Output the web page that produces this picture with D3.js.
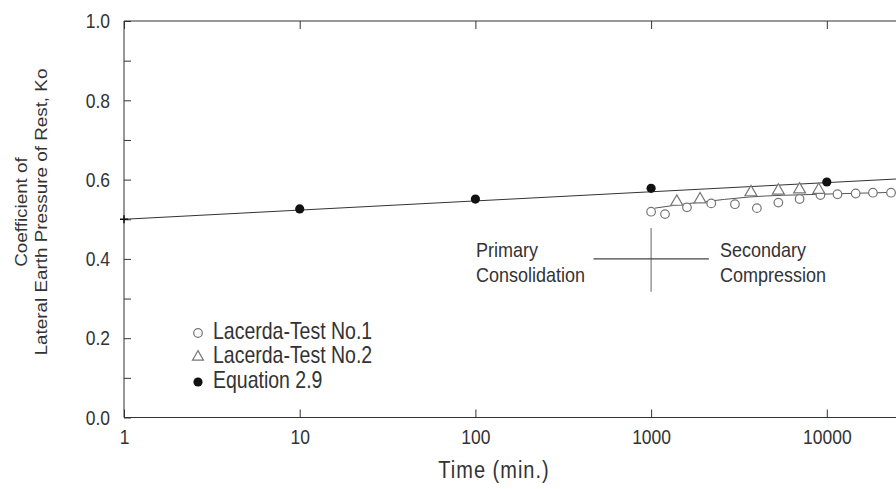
<!doctype html>
<html lang="en">
<head>
<meta charset="utf-8">
<title>Ko vs time</title>
<script src="https://cdn.jsdelivr.net/npm/d3@7"></script>
<style>
  body { margin: 0; background: #fff; }
  text { font-family: "Liberation Sans", Arial, sans-serif; fill: #333; }
</style>
</head>
<body>
<script>
// tick labels
var xTicks = [1, 10, 100, 1000, 10000];
var yTicks = [0, 0.1, 0.2, 0.3, 0.4, 0.5, 0.6, 0.7, 0.8, 0.9, 1.0];

// Lacerda - Test No.1 (open circles)
var test1Time = [1000, 1200, 1600, 2200, 3000, 4000, 5300, 7000, 9200, 11500, 14600, 18300, 23200];
var test1Ko   = [0.519, 0.513, 0.530, 0.540, 0.538, 0.528, 0.542, 0.551, 0.561, 0.563, 0.565, 0.567, 0.567];

// trend curve through the test data
var trendTime = [1050, 1400, 1900, 3600, 9000, 25000, 30000];
var trendKo   = [0.528, 0.536, 0.543, 0.556, 0.563, 0.568, 0.569];

// Lacerda - Test No.2 (open triangles)
var test2Time = [1400, 1900, 3700, 5300, 7000, 9000];
var test2Ko   = [0.544, 0.550, 0.568, 0.572, 0.575, 0.574];

// Equation 2.9 (filled dots) and its line
var eqTime = [10, 100, 1000, 10000];
var eqKo   = [0.526, 0.551, 0.578, 0.594];
var eqLineTime = [1, 100000];
var eqLineKo   = [0.5, 0.6155];

var legendNames = ["Lacerda-Test No.1", "Lacerda-Test No.2", "Equation 2.9"];

var width = 896, height = 489;
var svg = d3.select("body").append("svg")
    .attr("width", width)
    .attr("height", height);

// log x axis, decade = ~175.7 px, plot runs off the right edge
var x = d3.scaleLog().domain([1, 100000]).range([124, 1002.5]);
var y = d3.scaleLinear().domain([0, 1]).range([417.5, 21]);

var ink = "#333";

// frame
svg.append("path")
    .attr("d", "M" + x(100000) + "," + y(1) + "H" + x(1) + "V" + y(0) + "H" + x(100000))
    .attr("fill", "none")
    .attr("stroke", ink)
    .attr("stroke-width", 1);

// bottom axis with labels
var gx = svg.append("g")
    .attr("transform", "translate(0," + y(0) + ")")
    .call(d3.axisBottom(x).tickValues(xTicks).tickFormat(d3.format("d"))
        .tickSize(-8).tickPadding(9.5));
gx.select(".domain").remove();
gx.selectAll("line").attr("stroke", ink);
gx.selectAll("text")
    .attr("font-size", 17.5)
    .attr("font-family", null)
    .attr("transform", "scale(1,1.2)");

// top axis, ticks only
var gt = svg.append("g")
    .attr("transform", "translate(0," + y(1) + ")")
    .call(d3.axisTop(x).tickValues(xTicks).tickSize(-8).tickFormat(""));
gt.select(".domain").remove();
gt.selectAll("line").attr("stroke", ink);

// left axis
var gy = svg.append("g")
    .attr("transform", "translate(" + x(1) + ",0)")
    .call(d3.axisLeft(y).tickValues(yTicks)
        .tickFormat(function(d, i) { return i % 2 === 0 ? d3.format(".1f")(d) : ""; })
        .tickSize(-7).tickPadding(14));
gy.select(".domain").remove();
gy.selectAll("line").attr("stroke", ink);
gy.selectAll("text")
    .attr("font-size", 17.5)
    .attr("font-family", null)
    .attr("transform", "scale(1,1.2)");

// axis titles
svg.append("text")
    .attr("text-anchor", "middle")
    .attr("font-size", 20)
    .attr("letter-spacing", 1)
    .attr("transform", "translate(494,478) scale(1,1.15)")
    .text("Time (min.)");

svg.append("text")
    .attr("text-anchor", "middle")
    .attr("font-size", 15.7)
    .attr("transform", "translate(27,212) scale(1,1.2) rotate(-90)")
    .text("Coefficient of");

svg.append("text")
    .attr("text-anchor", "middle")
    .attr("font-size", 15.7)
    .attr("transform", "translate(47,212) scale(1,1.2) rotate(-90)")
    .text("Lateral Earth Pressure of Rest, Ko");

// equation 2.9 line
var line = d3.line()
    .x(function(d) { return x(d[0]); })
    .y(function(d) { return y(d[1]); });

svg.append("path")
    .datum(d3.zip(eqLineTime, eqLineKo))
    .attr("d", line)
    .attr("fill", "none")
    .attr("stroke", ink)
    .attr("stroke-width", 1);

// start marker on the axis
svg.append("path")
    .attr("d", "M-4,0H4M0,-4V4")
    .attr("transform", "translate(" + x(eqLineTime[0]) + "," + y(eqLineKo[0]) + ")")
    .attr("fill", "none")
    .attr("stroke", "#111")
    .attr("stroke-width", 1.5);

// test trend curve
svg.append("path")
    .datum(d3.zip(trendTime, trendKo))
    .attr("d", line.curve(d3.curveMonotoneX))
    .attr("fill", "none")
    .attr("stroke", "#555")
    .attr("stroke-width", 1);

// primary / secondary divider
svg.append("line")
    .attr("x1", x(1000)).attr("x2", x(1000))
    .attr("y1", y(0.478)).attr("y2", y(0.317))
    .attr("stroke", "#666").attr("stroke-width", 1);
svg.append("line")
    .attr("x1", x(470)).attr("x2", x(2130))
    .attr("y1", y(0.4)).attr("y2", y(0.4))
    .attr("stroke", "#444").attr("stroke-width", 1.2);

svg.append("text").attr("font-size", 18).attr("fill", "#555")
    .attr("transform", "translate(476,257) scale(1,1.15)").text("Primary");
svg.append("text").attr("font-size", 18)
    .attr("transform", "translate(476,282) scale(1,1.15)").text("Consolidation");
svg.append("text").attr("font-size", 18)
    .attr("transform", "translate(720,257) scale(1,1.15)").text("Secondary");
svg.append("text").attr("font-size", 18)
    .attr("transform", "translate(720,282) scale(1,1.15)").text("Compression");

// test 1 circles
svg.selectAll("circle.t1")
    .data(d3.zip(test1Time, test1Ko))
    .enter().append("circle")
    .attr("class", "t1")
    .attr("cx", function(d) { return x(d[0]); })
    .attr("cy", function(d) { return y(d[1]); })
    .attr("r", 4.3)
    .attr("fill", "#fff")
    .attr("stroke", "#777")
    .attr("stroke-width", 1.2);

// test 2 triangles
var tri = d3.symbol(d3.symbolTriangle).size(62);
svg.selectAll("path.t2")
    .data(d3.zip(test2Time, test2Ko))
    .enter().append("path")
    .attr("class", "t2")
    .attr("d", tri)
    .attr("transform", function(d) { return "translate(" + x(d[0]) + "," + y(d[1]) + ")"; })
    .attr("fill", "#fff")
    .attr("stroke", "#777")
    .attr("stroke-width", 1.2);

// equation dots
svg.selectAll("circle.eq")
    .data(d3.zip(eqTime, eqKo))
    .enter().append("circle")
    .attr("class", "eq")
    .attr("cx", function(d) { return x(d[0]); })
    .attr("cy", function(d) { return y(d[1]); })
    .attr("r", 4.6)
    .attr("fill", "#111");

// legend
var legend = svg.append("g");
var rowY = [333, 357, 382];
legendNames.forEach(function(name, i) {
    var g = legend.append("g").attr("transform", "translate(198," + rowY[i] + ")");
    if (i === 0) {
        g.append("circle").attr("r", 4.3).attr("fill", "#fff")
            .attr("stroke", "#777").attr("stroke-width", 1.2);
    } else if (i === 1) {
        g.append("path").attr("d", d3.symbol(d3.symbolTriangle).size(52))
            .attr("fill", "#fff").attr("stroke", "#777").attr("stroke-width", 1.2);
    } else {
        g.append("circle").attr("r", 4.6).attr("fill", "#111");
    }
    g.append("text")
        .attr("font-size", 19.5)
        .attr("transform", "translate(15,5.5) scale(1,1.2)")
        .text(name);
});
</script>
</body>
</html>
